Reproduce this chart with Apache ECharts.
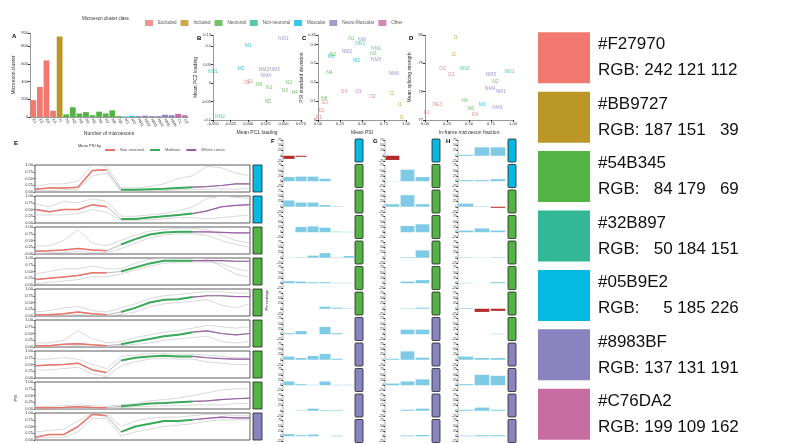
<!DOCTYPE html>
<html><head><meta charset="utf-8">
<script src="https://cdn.jsdelivr.net/npm/echarts@6/dist/echarts.min.js"></script>
<style>html,body{margin:0;padding:0;background:#fff}#c{width:790px;height:444px}</style>
</head><body><div id="c"></div>
<script>
// ---- palette (right panel) ----
const hexList = ['#F27970','#BB9727','#54B345','#32B897','#05B9E2','#8983BF','#C76DA2'];
const rgbList = ['RGB: 242 121 112','RGB: 187 151   39','RGB:   84 179   69','RGB:   50 184 151','RGB:     5 185 226','RGB: 137 131 191','RGB: 199 109 162'];
const classNames = ['Excluded','Included','Neuronal','Non-neuronal','Muscular','Neuro-Muscular','Other'];

// ---- panel A ----
const aCats = ['E1','E2','E3','E4','I1','N1','N2','N3','N4','N5','N6','N7','N8','N9','M1','M2','NM1','NM2','NM3','NM4','NM5','NM6','O1','O2'];
const aVals = [190,340,640,70,910,30,110,40,55,20,60,40,75,10,5,10,10,15,10,10,25,20,35,20];
const aClass = [0,0,0,0,1,2,2,2,2,2,2,2,2,2,4,4,5,5,5,5,5,5,6,6];

// ---- panels B, C, D: [label, class, x, y] ----
const bPts = [['NM1',5,0.05,0.12],['M1',4,0.0,0.10],['M2',4,-0.01,0.04],['NN1',3,-0.05,0.03],['NM2NM3',5,0.03,0.035],['NM4',5,0.025,0.02],
 ['O2',0,-0.002,0.0],['E1',0,0.003,0.003],['N6',2,0.015,-0.005],['N1',2,0.03,-0.012],['N2',2,0.058,0.0],['N3',2,0.052,-0.02],['N4',2,0.066,-0.027],['N5',2,0.028,-0.05],['NN2',3,-0.04,-0.09]];
const cPts = [['N1',2,0.38,0.43],['NM',5,0.5,0.425],['NN2',3,0.48,0.405],['NN1',3,0.66,0.38],['NM2',5,0.33,0.36],['N3',2,0.63,0.35],['N2',2,0.17,0.345],['M1',4,0.15,0.335],
 ['NM3',5,0.66,0.32],['M2',4,0.44,0.315],['N4',2,0.13,0.25],['NM6',5,0.86,0.245],['E4',0,0.3,0.15],['O1',6,0.46,0.15],['O2',6,0.62,0.125],['I2',1,0.84,0.14],
 ['N8',2,0.07,0.115],['E3',0,0.08,0.09],['I1',1,0.93,0.08],['E2',0,0.04,0.05],['E1',0,0.01,0.015],['I1',1,0.95,0.01]];
const dPts = [['I1',1,0.35,79.9],['I2',1,0.33,79.3],['O2',6,0.2,78.8],['NN2',3,0.45,78.8],['O1',6,0.3,78.6],['NM5',5,0.75,78.6],['NN1',3,0.96,78.7],
 ['N2',2,0.8,78.35],['NM4',5,0.74,78.1],['NM1',5,0.86,78.0],['N4',2,0.45,77.7],['M1',4,0.65,77.55],['NM6',5,0.82,77.45],['DE3',0,0.14,77.55],['N6',2,0.52,77.4],['E4',0,0.57,77.2],['E1',0,0.02,77.25]];

// ---- panel E: mean PSI profiles and grey spread lines ----
const eMean = [
 [0.1,0.15,0.15,0.18,0.8,0.82,0.08,0.08,0.1,0.12,0.15,0.18,0.2,0.24,0.3,0.3],
 [0.5,0.42,0.5,0.5,0.68,0.6,0.15,0.15,0.2,0.25,0.3,0.35,0.45,0.6,0.65,0.68],
 [0.1,0.12,0.15,0.2,0.15,0.12,0.35,0.55,0.72,0.8,0.82,0.82,0.82,0.8,0.78,0.78],
 [0.2,0.25,0.3,0.35,0.45,0.45,0.5,0.65,0.8,0.9,0.9,0.9,0.9,0.9,0.88,0.88],
 [0.05,0.05,0.08,0.15,0.08,0.05,0.15,0.3,0.5,0.6,0.62,0.7,0.75,0.75,0.72,0.72],
 [0.05,0.05,0.1,0.12,0.08,0.05,0.1,0.2,0.3,0.4,0.45,0.55,0.6,0.5,0.45,0.5],
 [0.45,0.48,0.5,0.55,0.3,0.2,0.65,0.75,0.8,0.82,0.8,0.8,0.75,0.72,0.7,0.7],
 [0.05,0.05,0.06,0.08,0.06,0.05,0.1,0.15,0.2,0.22,0.25,0.28,0.3,0.35,0.38,0.4],
 [0.1,0.2,0.2,0.5,0.95,0.9,0.3,0.5,0.6,0.7,0.7,0.75,0.8,0.85,0.82,0.82]];
const eHi = [
 [0.2,0.3,0.3,0.4,1.0,0.95,0.15,0.15,0.2,0.3,0.5,0.6,0.95,0.9,0.7,0.6],
 [0.7,0.6,0.8,0.75,0.9,0.8,0.25,0.25,0.3,0.35,0.45,0.6,0.9,1.0,0.95,0.9],
 [0.3,0.3,0.5,0.9,0.4,0.3,0.5,0.7,0.85,0.9,0.95,0.95,0.9,0.7,0.5,0.4],
 [0.4,0.5,0.6,0.6,0.7,0.6,0.6,0.8,0.95,1,1,1,0.95,0.7,0.4,0.3],
 [0.15,0.2,0.3,0.35,0.2,0.15,0.3,0.45,0.65,0.75,0.8,0.85,0.9,0.9,0.85,0.85],
 [0.15,0.15,0.25,0.6,0.3,0.15,0.2,0.35,0.45,0.55,0.6,0.7,0.8,0.75,0.7,0.75],
 [0.7,0.7,0.75,0.7,0.5,0.35,0.8,0.85,0.9,0.9,0.88,0.88,0.85,0.8,0.75,0.75],
 [0.1,0.1,0.12,0.15,0.12,0.1,0.15,0.2,0.3,0.35,0.4,0.5,0.6,0.7,0.75,0.75],
 [0.3,0.35,0.4,0.7,1,1,0.5,0.7,0.8,0.85,0.85,0.9,0.95,0.95,0.9,0.9]];
const eLo = [
 [0.05,0.05,0.08,0.1,0.6,0.7,0.02,0.03,0.05,0.05,0.08,0.1,0.1,0.12,0.1,0.15],
 [0.3,0.3,0.3,0.35,0.5,0.4,0.1,0.1,0.12,0.15,0.2,0.2,0.15,0.2,0.25,0.3],
 [0.02,0.05,0.05,0.1,0.05,0.05,0.2,0.4,0.6,0.7,0.75,0.75,0.7,0.5,0.35,0.25],
 [0.05,0.1,0.15,0.2,0.3,0.3,0.4,0.55,0.7,0.8,0.85,0.85,0.85,0.8,0.6,0.5],
 [0.02,0.02,0.03,0.05,0.03,0.02,0.05,0.15,0.35,0.45,0.5,0.55,0.6,0.4,0.3,0.45],
 [0.01,0.02,0.03,0.05,0.02,0.02,0.05,0.1,0.15,0.25,0.3,0.35,0.4,0.2,0.15,0.2],
 [0.3,0.3,0.35,0.4,0.15,0.05,0.45,0.6,0.7,0.72,0.7,0.7,0.6,0.55,0.5,0.5],
 [0.01,0.01,0.02,0.03,0.02,0.01,0.05,0.08,0.1,0.12,0.12,0.15,0.15,0.15,0.2,0.2],
 [0.05,0.1,0.1,0.3,0.8,0.8,0.15,0.3,0.4,0.5,0.55,0.6,0.7,0.75,0.75,0.75]];
const eStrip = [4,4,2,2,2,2,2,2,5];

// ---- panels F, G, H (percentage per row) ----
const fVals = [[-15,-5,null,null,null,null],[20,22,22,12,null,null],[30,20,20,8,2,null],[null,25,28,22,3,2],[1,2,10,22,2,8],[10,8,5,5,2,2],
 [null,null,null,10,5,2],[5,15,null,35,5,null],[15,8,18,28,5,null],[18,5,2,18,2,2],[null,2,10,3,3,null],[10,5,8,null,3,null]];
const gVals = [[-20,null,null],[1,55,20],[12,55,12],[null,30,38],[null,3,35],[null,8,15],[null,2,5],[null,22,22],[5,40,10],[8,18,28],[null,5,10],[null,4,6]];
const hVals = [[5,40,40],[5,5,10],[15,2,-5],[8,18,8],[2,1,2],[2,null,5],[3,-15,-10],[null,null,2],[15,8,8],[5,50,45],[5,15,5],[3,5,5]];
const fStrip = [4,2,2,2,2,2,2,5,5,5,5,5];
const gStrip = [4,2,2,2,2,2,2,5,5,5,5,5];
const hStrip = [4,4,2,2,2,2,2,2,5,5,5,5];

const chart = echarts.init(document.getElementById('c'));
const grid=[], xAxis=[], yAxis=[], series=[], graphic=[];
const tiny = {fontSize:4, color:'#333', margin:2};
const F = 'Liberation Sans, Arial, sans-serif';
const axLine = {show:true,onZero:false,lineStyle:{color:'#333',width:0.5}};

function addGrid(g, xa, ya){ grid.push(g); xa.gridIndex=grid.length-1; ya.gridIndex=grid.length-1; xAxis.push(xa); yAxis.push(ya); return grid.length-1; }
function panelLabel(t,x,y){ graphic.push({type:'text',left:x,top:y,style:{text:t,font:'bold 6px '+F,fill:'#000'}}); }

// swatches
let gi = addGrid({left:538,top:28,width:52,height:420},
  {type:'value',min:0,max:1,show:false},
  {type:'category',data:hexList,inverse:true,show:false});
series.push({type:'bar',xAxisIndex:gi,yAxisIndex:gi,barWidth:51,silent:true,
  data:hexList.map((h,i)=>({value:1,itemStyle:{color:h}})),
  label:{show:true,position:'right',distance:8,align:'left',color:'#111',fontFamily:F,fontSize:17,lineHeight:26,
    formatter:p=>hexList[p.dataIndex]+'\n'+rgbList[p.dataIndex]}});

// panel A
gi = addGrid({left:30,top:33,width:158,height:84},
  {type:'category',data:aCats,axisLabel:{...tiny,rotate:-60,interval:0},axisTick:{length:2},axisLine:axLine,
   name:'Number of microexons',nameLocation:'middle',nameGap:13,nameTextStyle:{fontSize:5,fontFamily:F}},
  {type:'value',min:0,max:950,interval:200,axisLabel:tiny,splitLine:{show:false},axisLine:axLine,axisTick:{show:true,length:2},
   name:'Microexon cluster',nameLocation:'middle',nameGap:14,nameTextStyle:{fontSize:5,fontFamily:F}});
series.push({type:'bar',xAxisIndex:gi,yAxisIndex:gi,barCategoryGap:'12%',data:aVals.map((v,i)=>({value:v,itemStyle:{color:hexList[aClass[i]]}}))});
panelLabel('A',12,33);

// scatter panels
function scatterPanel(pts,left,xr,yr,xn,yn,xi,yi,letter){
  const id = addGrid({left:left,top:35,width:88,height:85},
    {type:'value',min:xr[0],max:xr[1],interval:xi,axisLabel:{...tiny,formatter:v=>v.toFixed(xi<0.1?3:2)},splitLine:{show:false},axisTick:{length:2},axisLine:axLine,
     name:xn,nameLocation:'middle',nameGap:10,nameTextStyle:{fontSize:5,fontFamily:F}},
    {type:'value',min:yr[0],max:yr[1],interval:yi,axisLabel:tiny,splitLine:{show:false},axisLine:axLine,axisTick:{show:true,length:2},
     name:yn,nameLocation:'middle',nameGap:13,nameTextStyle:{fontSize:5,fontFamily:F}});
  classNames.forEach((cn,ci)=>{
    series.push({name:cn,type:'scatter',xAxisIndex:id,yAxisIndex:id,symbolSize:0,itemStyle:{color:hexList[ci]},
      data:pts.filter(p=>p[1]===ci).map(p=>({value:[p[2],p[3]],name:p[0]})),
      label:{show:true,position:'inside',formatter:'{b}',fontSize:5,color:hexList[ci]}});
  });
  panelLabel(letter,left-16,35);
}
scatterPanel(bPts,213,[-0.05,0.075],[-0.1,0.13],'Mean PC1 loading','Mean PC2 loading',0.025,0.05,'B');
scatterPanel(cPts,318,[0,1],[0,0.45],'Mean PSI','PSI standard deviation',0.25,0.1,'C');
scatterPanel(dPts,425,[0,1],[77,80],'In-frame microexon fraction','Mean splicing strength',0.25,1,'D');

// panel E
const nT = eMean[0].length;
const seg = (arr,a,b)=>arr.map((v,i)=>(i>=a&&i<=b)?v:'-');
eMean.forEach((m,r)=>{
  const top=165+r*31;
  const id = addGrid({left:35,top:top,width:215,height:27,show:true,borderColor:'#333',borderWidth:0.8},
    {type:'category',data:m.map((_,i)=>i),boundaryGap:false,show:false},
    {type:'value',min:0,max:1,interval:0.25,axisLabel:{...tiny,formatter:v=>v.toFixed(2)},splitLine:{show:false},axisTick:{show:true,length:1.5},axisLine:{show:false}});
  const common={type:'line',xAxisIndex:id,yAxisIndex:id,symbol:'none',silent:true};
  series.push({...common,data:eHi[r],lineStyle:{color:'#c8c8c8',width:0.7}});
  series.push({...common,data:eLo[r],lineStyle:{color:'#c8c8c8',width:0.7}});
  series.push({...common,data:m,lineStyle:{color:'#bbbbbb',width:1}});
  series.push({...common,name:'Non neuronal',data:seg(m,0,5),lineStyle:{color:'#E8756B',width:1.5},itemStyle:{color:'#E8756B'}});
  series.push({...common,name:'Midbrain',data:seg(m,6,11),lineStyle:{color:'#3BAA5A',width:2},itemStyle:{color:'#3BAA5A'}});
  series.push({...common,name:'Whole cortex',data:seg(m,11,nT-1),lineStyle:{color:'#9B5FA8',width:1.2},itemStyle:{color:'#9B5FA8'}});
  graphic.push({type:'rect',shape:{x:253,y:top,width:9,height:27},style:{fill:hexList[eStrip[r]],stroke:'#222',lineWidth:0.8}});
});
panelLabel('E',14,140);
graphic.push({type:'text',left:14,top:395,rotation:Math.PI/2,style:{text:'PSI',font:'4px '+F,fill:'#333'}});

// F/G/H
function barColumn(vals,strip,left,width,stripX,letter){
  vals.forEach((row,r)=>{
    const top=140+r*25.5;
    const id = addGrid({left:left,top:top,width:width,height:21},
      {type:'category',data:row.map((_,i)=>i),show:false},
      {type:'value',min:-25,max:75,interval:25,axisLabel:{fontSize:3.5,color:'#333',margin:1},splitLine:{show:false},axisTick:{show:true,length:1.5},axisLine:{show:true,onZero:false,lineStyle:{color:'#333',width:0.4}}});
    series.push({type:'bar',xAxisIndex:id,yAxisIndex:id,barCategoryGap:'8%',silent:true,
      data:row.map(v=>v===null?'-':{value:v,itemStyle:{color:v<0?'#B22A2A':'#7FCBE6'}})});
    graphic.push({type:'rect',shape:{x:stripX,y:top-1,width:8,height:23,r:1},style:{fill:hexList[strip[r]],stroke:'#222',lineWidth:0.8}});
  });
  panelLabel(letter,left-12,138);
}
barColumn(fVals,fStrip,283,72,355,'F');
barColumn(gVals,gStrip,385,45,432,'G');
barColumn(hVals,hStrip,458,48,508,'H');
graphic.push({type:'text',left:265,top:290,rotation:Math.PI/2,style:{text:'Percentage',font:'4px '+F,fill:'#333'}});

// watermark
graphic.push({type:'text',left:598,top:418,style:{text:'知乎 @marsggbo',font:'17px "Noto Sans CJK SC"',fill:'rgba(255,255,255,0.85)'}});

chart.setOption({
  animation:false,
  textStyle:{fontFamily:F},
  legend:[
    {data:classNames,top:15,left:140,itemWidth:8,itemHeight:6,itemGap:4,icon:'rect',
     textStyle:{fontSize:4.5},selectedMode:false},
    {data:['Non neuronal','Midbrain','Whole cortex'],top:143,left:100,itemWidth:10,itemHeight:2,itemGap:6,icon:'rect',textStyle:{fontSize:4},selectedMode:false}
  ],
  graphic:graphic.concat([
    {type:'text',left:82,top:16,style:{text:'Microexon cluster class',font:'4.5px '+F,fill:'#333'}},
    {type:'text',left:78,top:144,style:{text:'Mean PSI by',font:'4px '+F,fill:'#333'}}
  ]),
  grid, xAxis, yAxis, series
});
</script></body></html>
